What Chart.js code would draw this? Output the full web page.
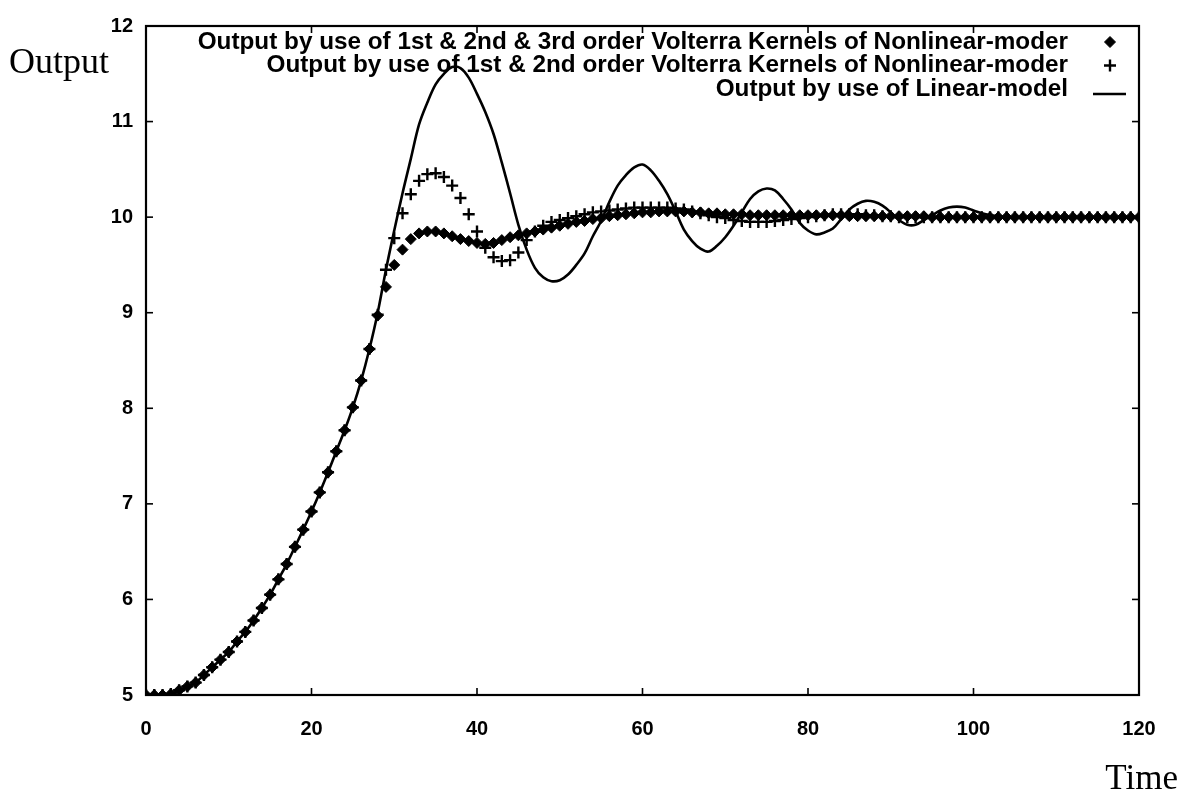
<!DOCTYPE html>
<html><head><meta charset="utf-8">
<script src="https://cdn.jsdelivr.net/npm/chart.js@4.4.0/dist/chart.umd.min.js"></script>
<style>html,body{margin:0;padding:0;background:#fff;}#wrap{width:1188px;height:793px;position:relative;}</style>
</head><body><div id="wrap"><canvas id="c" width="1188" height="793"></canvas></div>
<script>
const times = [0,1,2,3,4,5,6,7,8,9,10,11,12,13,14,15,16,17,18,19,20,21,22,23,24,25,26,27,28,29,30,31,32,33,34,35,36,37,38,39,40,41,42,43,44,45,46,47,48,49,50,51,52,53,54,55,56,57,58,59,60,61,62,63,64,65,66,67,68,69,70,71,72,73,74,75,76,77,78,79,80,81,82,83,84,85,86,87,88,89,90,91,92,93,94,95,96,97,98,99,100,101,102,103,104,105,106,107,108,109,110,111,112,113,114,115,116,117,118,119,120];
const xTickValues = [0,20,40,60,80,100,120];
const yTickValues = [5,6,7,8,9,10,11,12];
const seriesLabels = [
  "Output by use of 1st & 2nd & 3rd order Volterra Kernels of Nonlinear-moder",
  "Output by use of 1st & 2nd order Volterra Kernels of Nonlinear-moder",
  "Output by use of Linear-model"
];
const yAxisTitle = "Output";
const xAxisTitle = "Time";

const volterra123 = [5.00,5.00,5.00,5.01,5.05,5.09,5.13,5.21,5.29,5.37,5.45,5.56,5.66,5.78,5.91,6.05,6.21,6.37,6.55,6.73,6.92,7.12,7.33,7.55,7.77,8.01,8.29,8.62,
 8.97,9.27,9.50,9.66,9.77,9.83,9.85,9.85,9.83,9.80,9.77,9.75,9.73,9.72,9.73,9.76,9.79,9.81,9.83,9.85,9.87,9.89,
 9.91,9.93,9.95,9.96,9.98,9.99,10.01,10.02,10.03,10.04,10.05,10.05,10.06,10.06,10.06,10.06,10.05,10.05,10.04,10.04,
 10.03,10.03,10.03,10.02,10.02,10.02,10.02,10.02,10.02,10.02,10.02,10.02,10.02,10.02,10.02,10.01,10.01,10.01,10.01,10.01,
 10.01,10.01,10.01,10.01,10.01,10.00,10.00,10.00,10.00,10.00,10.00,10.00,10.00,10.00,10.00,10.00,10.00,10.00,10.00,10.00,
 10.00,10.00,10.00,10.00,10.00,10.00,10.00,10.00,10.00,10.00,10.00];
const volterra12 = [5.00,5.00,5.00,5.01,5.05,5.09,5.13,5.21,5.29,5.37,5.45,5.56,5.66,5.78,5.91,6.05,6.21,6.37,6.55,6.73,6.92,7.12,7.33,7.55,7.77,8.01,8.29,8.62,
 8.98,9.45,9.78,10.04,10.24,10.38,10.45,10.46,10.42,10.33,10.20,10.03,9.85,9.68,9.58,9.54,9.55,9.63,9.76,9.85,9.91,9.95,
 9.97,9.99,10.01,10.03,10.05,10.06,10.07,10.08,10.09,10.10,10.10,10.10,10.10,10.10,10.09,10.08,10.06,10.04,10.02,10.00,
 9.99,9.97,9.96,9.95,9.95,9.95,9.96,9.97,9.98,9.99,10.00,10.01,10.02,10.03,10.03,10.03,10.03,10.02,10.02,10.01,
 10.01,10.00,10.00,10.00,10.00,10.00,10.00,10.00,10.00,10.00,10.00,10.00,10.00,10.00,10.00,10.00,10.00,10.00,10.00,10.00,
 10.00,10.00,10.00,10.00,10.00,10.00,10.00,10.00,10.00,10.00,10.00];
const linearModel = [5.00,5.00,5.00,5.01,5.05,5.09,5.13,5.21,5.29,5.37,5.45,5.56,5.66,5.78,5.91,6.05,6.21,6.37,6.55,6.73,6.92,7.12,7.33,7.55,7.77,8.01,8.29,8.62,
 9.00,9.45,9.86,10.25,10.61,10.97,11.20,11.39,11.50,11.57,11.56,11.46,11.29,11.10,10.87,10.57,10.25,9.92,9.66,9.47,9.37,9.33,
 9.34,9.40,9.50,9.62,9.80,9.96,10.16,10.33,10.44,10.52,10.55,10.49,10.38,10.24,10.06,9.87,9.75,9.67,9.64,9.70,
 9.79,9.91,10.05,10.19,10.27,10.30,10.28,10.19,10.08,9.94,9.86,9.82,9.84,9.88,9.98,10.08,10.14,10.17,10.16,10.12,
 10.05,9.97,9.92,9.92,9.97,10.02,10.07,10.10,10.11,10.10,10.07,10.04,10.02,10.01,10.00,10.00,10.00,10.00,10.00,10.00,
 10.00,10.00,10.00,10.00,10.00,10.00,10.00,10.00,10.00,10.00,10.00];

function pts(arr){ return times.map((t,i)=>({x:t,y:arr[i]})); }

const frameAndText = {
  id:'frameAndText',
  afterDraw(chart){
    const ctx = chart.ctx, a = chart.chartArea;
    const xs = chart.scales.x, ys = chart.scales.y;
    ctx.save();
    ctx.strokeStyle = '#000'; ctx.lineWidth = 2.2;
    ctx.strokeRect(a.left, a.top, a.right - a.left, a.bottom - a.top);
    ctx.lineWidth = 1.6;
    xTickValues.slice(1,-1).forEach(v=>{
      const p = xs.getPixelForValue(v);
      ctx.beginPath(); ctx.moveTo(p, a.bottom); ctx.lineTo(p, a.bottom-7); ctx.stroke();
      ctx.beginPath(); ctx.moveTo(p, a.top); ctx.lineTo(p, a.top+7); ctx.stroke();
    });
    yTickValues.slice(1,-1).forEach(v=>{
      const p = ys.getPixelForValue(v);
      ctx.beginPath(); ctx.moveTo(a.left, p); ctx.lineTo(a.left+7, p); ctx.stroke();
      ctx.beginPath(); ctx.moveTo(a.right, p); ctx.lineTo(a.right-7, p); ctx.stroke();
    });
    ctx.fillStyle = '#000';
    ctx.font = '36px "Liberation Serif", "Times New Roman", serif';
    ctx.textAlign = 'left'; ctx.textBaseline = 'alphabetic';
    ctx.fillText(yAxisTitle, 9, 73);
    ctx.font = '35px "Liberation Serif", "Times New Roman", serif';
    ctx.textAlign = 'right';
    ctx.fillText(xAxisTitle, 1178, 789);
    ctx.font = 'bold 24.3px "Liberation Sans", Arial, sans-serif';
    ctx.textAlign = 'right'; ctx.textBaseline = 'middle';
    const textRight = 1068, symX = 1110, rows = [42, 65.5, 89];
    chart.data.datasets.forEach((ds, i)=>{
      ctx.fillStyle = '#000'; ctx.strokeStyle = '#000';
      ctx.fillText(seriesLabels[i], textRight, rows[i]);
      if (i === 2) {
        ctx.lineWidth = 2.5;
        ctx.beginPath(); ctx.moveTo(symX-17, rows[i]+5); ctx.lineTo(symX+16, rows[i]+5); ctx.stroke();
      } else {
        ctx.lineWidth = ds.borderWidth;
        Chart.helpers.drawPoint(ctx, {pointStyle: ds.pointStyle, rotation: 0, radius: ds.pointRadius, borderWidth: ds.borderWidth}, symX, rows[i]);
      }
    });
    ctx.restore();
  }
};

new Chart(document.getElementById('c'), {
  type: 'scatter',
  data: {
    datasets: [
      {label: seriesLabels[0], data: pts(volterra123), showLine:false, pointStyle:'rectRot', pointRadius:5.5, pointHoverRadius:5.5, backgroundColor:'#000', borderColor:'#000', borderWidth:1},
      {label: seriesLabels[1], data: pts(volterra12), showLine:false, pointStyle:'cross', pointRadius:6, pointHoverRadius:6, backgroundColor:'#000', borderColor:'#000', borderWidth:2.4},
      {label: seriesLabels[2], data: pts(linearModel), showLine:true, pointRadius:0, borderColor:'#000', backgroundColor:'#000', borderWidth:2.6, tension:0.35, fill:false}
    ]
  },
  options: {
    responsive:false, animation:false, devicePixelRatio:1,
    layout:{padding:{top:26, right:49, left:0, bottom:0}},
    plugins:{legend:{display:false}, tooltip:{enabled:false}},
    scales:{
      x:{type:'linear', min:0, max:120,
         afterBuildTicks(s){ s.ticks = xTickValues.map(v=>({value:v})); },
         afterFit(s){ s.height = 98; },
         grid:{display:false, drawTicks:false}, border:{display:false},
         ticks:{color:'#000', padding:22, maxRotation:0, autoSkip:false, font:{family:'"Liberation Sans", Arial, sans-serif', size:20, weight:'bold'}}},
      y:{type:'linear', min:5, max:12,
         afterBuildTicks(s){ s.ticks = yTickValues.map(v=>({value:v})); },
         afterFit(s){ s.width = 146; },
         grid:{display:false, drawTicks:false}, border:{display:false},
         ticks:{color:'#000', padding:13, autoSkip:false, font:{family:'"Liberation Sans", Arial, sans-serif', size:20, weight:'bold'}}}
    }
  },
  plugins:[frameAndText]
});
</script></body></html>
